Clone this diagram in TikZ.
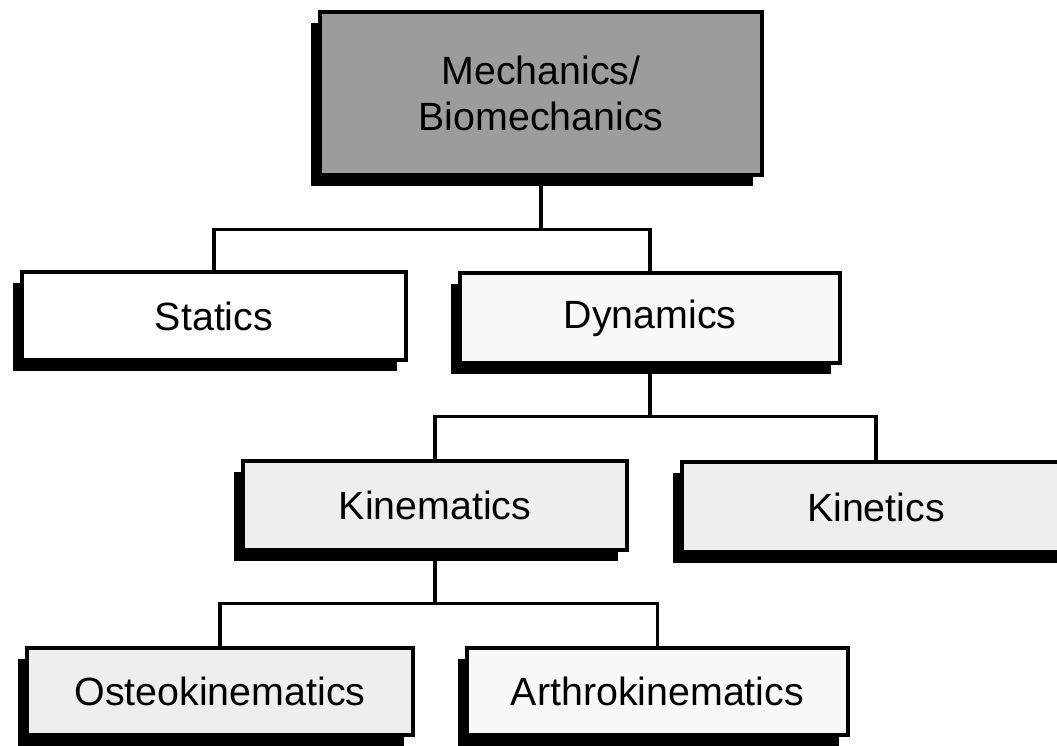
\documentclass[tikz,border=0pt]{standalone}
\usepackage{fontspec}
\setmainfont{Liberation Sans}
\usepackage{tikz}
\usetikzlibrary{shadows}
\definecolor{topgray}{RGB}{156,156,156}
\definecolor{lightgray}{RGB}{238,238,238}
\definecolor{paleshade}{RGB}{248,248,248}

\begin{document}
\begin{tikzpicture}[
    branch/.style={draw, line width=1pt, minimum height=0.88cm, text centered, align=center, inner sep=0pt,
        font=\fontsize{11.2}{13.3}\selectfont,
        drop shadow={shadow xshift=-0.09cm, shadow yshift=-0.11cm, fill=black, opacity=1}},
    link/.style={line width=0.9pt}
]
\useasboundingbox (0,0) rectangle (10.57,-7.45);

\node[branch, fill=topgray, minimum width=4.42cm, minimum height=1.63cm] (mech) at (5.41,-0.935) {Mechanics/\\Biomechanics};

\node[branch, fill=white, minimum width=3.84cm] (statics) at (2.14,-3.16) {Statics};
\node[branch, fill=paleshade, minimum width=3.80cm, minimum height=0.90cm] (dynamics) at (6.50,-3.18) {Dynamics};

\node[branch, fill=lightgray, minimum width=3.84cm, minimum height=0.89cm] (kinematics) at (4.35,-5.055) {Kinematics};
\node[branch, fill=lightgray, minimum width=3.88cm, minimum height=0.90cm] (kinetics) at (8.76,-5.07) {Kinetics};

\node[branch, fill=lightgray, minimum width=3.86cm, minimum height=0.87cm] (osteo) at (2.20,-6.915) {Osteokinematics};
\node[branch, fill=paleshade, minimum width=3.81cm, minimum height=0.87cm] (arthro) at (6.575,-6.915) {Arthrokinematics};

\draw[link] (mech.south) -- ++(0,-0.53) coordinate (j1);
\draw[link] (j1) -| (statics.north);
\draw[link] (j1) -| (dynamics.north);

\draw[link] (dynamics.south) -- ++(0,-0.52) coordinate (j2);
\draw[link] (j2) -| (kinematics.north);
\draw[link] (j2) -| (kinetics.north);

\draw[link] (kinematics.south) -- ++(0,-0.52) coordinate (j3);
\draw[link] (j3) -| (osteo.north);
\draw[link] (j3) -| (arthro.north);

\end{tikzpicture}
\end{document}
